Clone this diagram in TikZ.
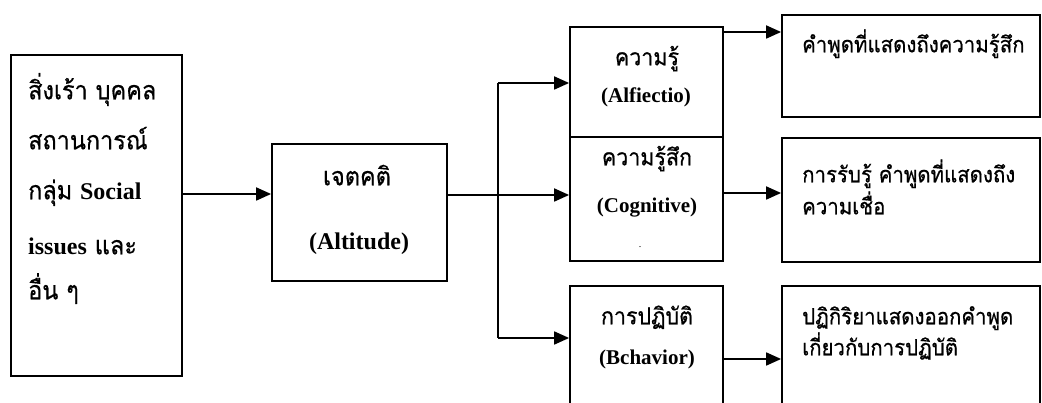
\documentclass[tikz,border=0pt]{standalone}
\usepackage{fontspec}
\setmainfont{Liberation Serif}
\newfontfamily\thai[Script=Thai,FakeBold=0.6,FakeStretch=0.92]{Loma}
\usetikzlibrary{arrows.meta}
\begin{document}
\begin{tikzpicture}[x=1pt,y=-1pt,
  box/.style={draw, line width=1.8pt, inner sep=0pt},
  line/.style={line width=1.8pt},
  conn/.style={line, -{Triangle[length=15pt,width=13pt]}},
  thbig/.style={font=\thai\fontsize{25.5}{28}\selectfont, inner sep=0pt},
  enbig/.style={font=\bfseries\fontsize{24}{26}\selectfont, inner sep=0pt},
  thmid/.style={font=\thai\fontsize{23.3}{26}\selectfont, inner sep=0pt},
  enmid/.style={font=\bfseries\fontsize{21}{23}\selectfont, inner sep=0pt},
  thsm/.style={font=\thai\fontsize{22.2}{25}\selectfont, inner sep=0pt}]
\useasboundingbox[fill=white] (0,0) rectangle (1042,403);

% boxes
\node[box, minimum width=171pt, minimum height=321pt] (src) at (96.5,215.5) {};
\node[box, minimum width=175pt, minimum height=137pt] (att) at (359.5,212.5) {};
\node[box, minimum width=153pt, minimum height=110pt] (k1) at (646.5,82) {};
\node[box, minimum width=153pt, minimum height=124pt] (k2) at (646.5,199) {};
\node[box, minimum width=153pt, minimum height=134pt] (k3) at (646.5,353) {};
\node[box, minimum width=258pt, minimum height=102pt] (r1) at (911,66) {};
\node[box, minimum width=258pt, minimum height=124pt] (r2) at (911,200) {};
\node[box, minimum width=258pt, minimum height=134pt] (r3) at (911,353) {};

% texts of the stimulus box
\node[thbig, anchor=mid west] (s1) at (28,97) {สิ่งเร้า บุคคล};
\node[thbig, anchor=mid west] (s2) at (28,147) {สถานการณ์};
\node[thbig, anchor=mid west] (s3) at (28,197) {กลุ่ม {\bfseries\fontspec{Liberation Serif}\fontsize{24}{26}\selectfont Social}};
\node[thbig, anchor=mid west] (s4) at (28,252) {{\bfseries\fontspec{Liberation Serif}\fontsize{24}{26}\selectfont issues} และ};
\node[thbig, anchor=mid west] (s5) at (28,297) {อื่น ๆ};

% attitude
\node[thbig, anchor=mid] (t1) at (357,183) {เจตคติ};
\node[enbig, anchor=mid] (t2) at (359,247) {(Altitude)};

% components
\node[thmid, anchor=mid] (k1a) at (647,63) {ความรู้};
\node[enmid, anchor=mid] (k1b) at (646,100) {(Alfiectio)};
\node[thmid, anchor=mid] (k2a) at (647,163) {ความรู้สึก};
\node[enmid, anchor=mid] (k2b) at (647,210) {(Cognitive)};
\node[font=\fontsize{10}{12}\selectfont, inner sep=0pt] (k2c) at (640,247) {.};
\node[thmid, anchor=mid] (k3a) at (647,322) {การปฏิบัติ};
\node[enmid, anchor=mid] (k3b) at (647,362) {(Bchavior)};

% responses
\node[thsm, anchor=mid west] (r1a) at (802,50) {คำพูดที่แสดงถึงความรู้สึก};
\node[thsm, anchor=mid west] (r2a) at (802,180) {การรับรู้ คำพูดที่แสดงถึง};
\node[thsm, anchor=mid west] (r2b) at (802,212) {ความเชื่อ};
\node[thsm, anchor=mid west] (r3a) at (802,322) {ปฏิกิริยาแสดงออกคำพูด};
\node[thsm, anchor=mid west] (r3b) at (802,353) {เกี่ยวกับการปฏิบัติ};

% connectors
\coordinate (a1) at (0,194);
\draw[conn] (src.east |- a1) -- (att.west |- a1);
\coordinate (tr) at (498,195);
\coordinate (trt) at (498,83);
\coordinate (trb) at (498,338);
\draw[line] (att.east |- tr) -- (tr);
\draw[line] (trt) -- (trb);
\draw[conn] (trt) -- (k1.west |- trt);
\draw[conn] (tr) -- (k2.west |- tr);
\draw[conn] (trb) -- (k3.west |- trb);
\coordinate (b1) at (0,32);
\coordinate (b2) at (0,193);
\coordinate (b3) at (0,359);
\draw[conn] (k1.east |- b1) -- (r1.west |- b1);
\draw[conn] (k2.east |- b2) -- (r2.west |- b2);
\draw[conn] (k3.east |- b3) -- (r3.west |- b3);
\end{tikzpicture}
\end{document}
